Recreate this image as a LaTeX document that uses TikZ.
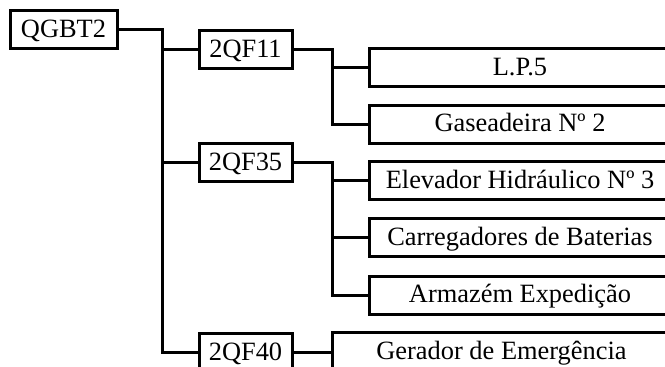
\documentclass[tikz,border=0pt]{standalone}
\usepackage{fontspec}
\setmainfont{Liberation Serif}
\usetikzlibrary{positioning}

% boxes of the distribution tree
\tikzset{
    panel/.style={draw, line width=1.5pt, fill=white, inner sep=0pt,
        minimum height=19pt, text height=0.74em, text depth=0pt,
        font=\fontsize{13.2}{15}\selectfont},
    board/.style={panel, minimum width=53.5pt},
    breaker/.style={panel, minimum width=46.5pt},
    load/.style={panel, minimum width=151pt},
    feeder/.style={line width=1.5pt}
}

\begin{document}
\begin{tikzpicture}[x=0.5pt, y=-0.5pt]
    \useasboundingbox (0,0) rectangle (665,367);
    \clip (0,0) rectangle (665,367);

    % main board and its breakers
    \node[board] (qgbt) at (63.5,30) {QGBT2};
    \node[breaker] (qf11) at (245.5,50) {2QF11};
    \node[breaker] (qf35) at (245.5,163) {2QF35};
    \node[breaker] (qf40) at (245.5,353) {2QF40};

    % loads
    \node[load] (lp5) at (520,68) {L.P.5};
    \node[load] (gas) at (520,124.5) {Gaseadeira Nº 2};
    \node[load] (elev) at (520,181) {Elevador Hidráulico Nº 3};
    \node[load] (carr) at (520,238) {Carregadores de Baterias};
    \node[load] (arm) at (520,295.5) {Armazém Expedição};
    \node[panel, minimum width=169.5pt] (ger) at (501.5,352) {Gerador de Emergência};

    \coordinate (bus0) at (162,0);
    \coordinate (bus1) at (332,0);

    % feeders
    \draw[feeder] (qgbt.east) -| (bus0 |- qf40.west) -- (qf40.west);
    \draw[feeder] (bus0 |- qf11.west) -- (qf11.west);
    \draw[feeder] (bus0 |- qf35.west) -- (qf35.west);

    \draw[feeder] (qf11.east) -| (bus1 |- gas.west) -- (gas.west);
    \draw[feeder] (bus1 |- lp5.west) -- (lp5.west);

    \draw[feeder] (qf35.east) -| (bus1 |- arm.west) -- (arm.west);
    \draw[feeder] (bus1 |- elev.west) -- (elev.west);
    \draw[feeder] (bus1 |- carr.west) -- (carr.west);

    \draw[feeder] (qf40.east) -- (qf40.east -| ger.west);
\end{tikzpicture}
\end{document}
